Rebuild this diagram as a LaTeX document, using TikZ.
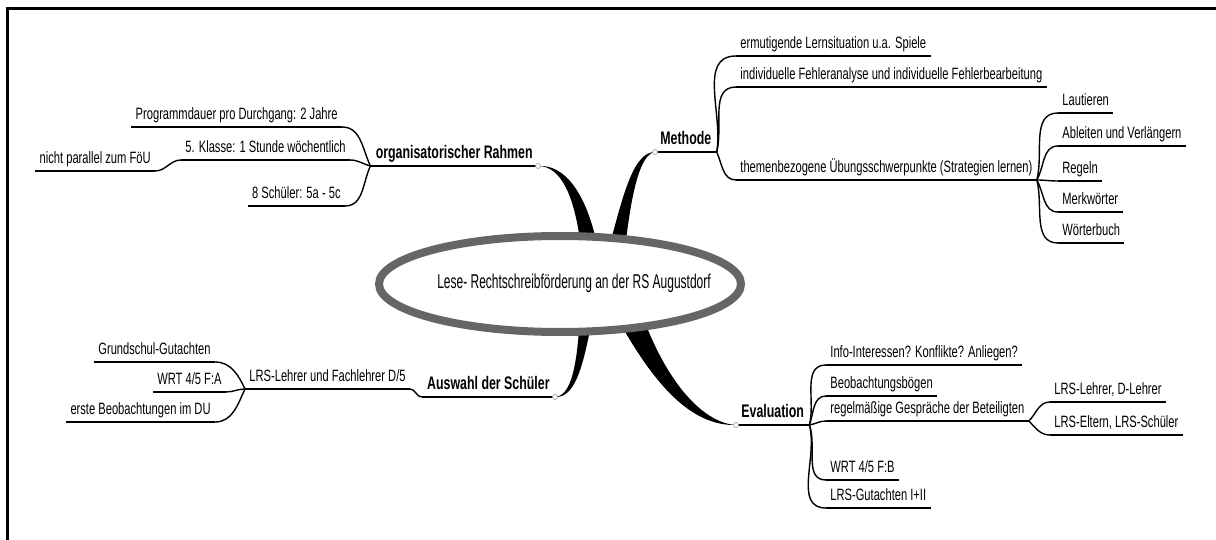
\documentclass[tikz,border=0pt]{standalone}
\usepackage{fontspec}
\setmainfont{Liberation Sans}[FakeStretch=0.68]
\newfontfamily\titelfont{Liberation Sans}[FakeStretch=0.6]

\begin{document}
\begin{tikzpicture}[x=0.5pt,y=-0.5pt,
  leaf/.style={inner xsep=2pt,inner ysep=1.3pt,text height=0.72em,text depth=0.22em,font=\fontsize{8.2}{9}\selectfont},
  lbl/.style={leaf,inner xsep=2.5pt,font=\fontsize{9.1}{10}\selectfont\bfseries},
  stroke/.style={line width=0.7pt},
  knot/.style={circle,draw=black!40,fill=white,line width=0.3pt,inner sep=0pt,minimum size=2.5pt}]
\useasboundingbox (0,0) rectangle (1216,540);
\draw[line width=1.5pt] (7,545) -- (7,9) -- (1222,9);

% Ansatzpunkte
\coordinate (orgdot) at (538,166);
\coordinate (methdot) at (655,152);
\coordinate (ausdot) at (555,397);
\coordinate (evaldot) at (736,425);

% dicke Aeste
\fill (orgdot) .. controls (562,166) and (574,198) .. (580,240) -- (596,240) .. controls (586,196) and (566,164) .. (orgdot) -- cycle;
\fill (methdot) .. controls (634,152) and (624,192) .. (611,240) -- (626,240) .. controls (632,192) and (640,154) .. (methdot) -- cycle;
\fill (ausdot) .. controls (574,398) and (582,370) .. (590,330) -- (579,330) .. controls (576,370) and (570,396) .. (ausdot) -- cycle;
\fill (evaldot) .. controls (695,426) and (660,392) .. (624,330) -- (648,330) .. controls (672,388) and (705,423) .. (evaldot) -- cycle;

% Mitte
\draw[draw=black!60,line width=4pt,fill=white] (560,284) ellipse (181 and 48);
\node[font=\fontsize{10}{11}\selectfont\titelfont] (titel) at (574,283) {Lese- Rechtschreibförderung an der RS Augustdorf};

% Hauptthemen
\node[lbl,anchor=south east] (org) at (orgdot) {organisatorischer Rahmen};
\node[lbl,anchor=south west] (meth) at (methdot) {Methode};
\node[lbl,anchor=south east] (aus) at (ausdot) {Auswahl der Schüler};
\node[lbl,anchor=south west] (eval) at (evaldot) {Evaluation};

% organisatorischer Rahmen
\node[leaf,anchor=south east] (prog) at (342,127) {Programmdauer pro Durchgang: 2 Jahre};
\node[leaf,anchor=south east] (klasse) at (350,160) {5. Klasse: 1 Stunde wöchentlich};
\node[leaf,anchor=south east] (parallel) at (155,171) {nicht parallel zum FöU};
\node[leaf,anchor=south east] (zahl) at (345,206) {8 Schüler: 5a - 5c};

% Methode
\node[leaf,anchor=south west] (lernsit) at (736,56) {ermutigende Lernsituation u.a. Spiele};
\node[leaf,anchor=south west] (fehler) at (736,87) {individuelle Fehleranalyse und individuelle Fehlerbearbeitung};
\node[leaf,anchor=south west] (themen) at (736,180) {themenbezogene Übungsschwerpunkte (Strategien lernen)};
\node[leaf,anchor=south west] (laut) at (1058,113) {Lautieren};
\node[leaf,anchor=south west] (ableit) at (1058,146) {Ableiten und Verlängern};
\node[leaf,anchor=south west] (regeln) at (1058,181) {Regeln};
\node[leaf,anchor=south west] (merk) at (1058,212) {Merkwörter};
\node[leaf,anchor=south west] (wbuch) at (1058,243) {Wörterbuch};

% Auswahl der Schueler
\node[leaf,anchor=south east] (lehrer) at (410,389) {LRS-Lehrer und Fachlehrer D/5};
\node[leaf,anchor=south east] (gutacht) at (215,362) {Grundschul-Gutachten};
\node[leaf,anchor=south east] (wrta) at (226,392) {WRT 4/5 F:A};
\node[leaf,anchor=south east] (beob) at (215,422) {erste Beobachtungen im DU};

% Evaluation
\node[leaf,anchor=south west] (info) at (826,365) {Info-Interessen? Konflikte? Anliegen?};
\node[leaf,anchor=south west] (boegen) at (826,396) {Beobachtungsbögen};
\node[leaf,anchor=south west] (gespr) at (826,421) {regelmäßige Gespräche der Beteiligten};
\node[leaf,anchor=south west] (lrsl) at (1050,402) {LRS-Lehrer, D-Lehrer};
\node[leaf,anchor=south west] (lrse) at (1050,435) {LRS-Eltern, LRS-Schüler};
\node[leaf,anchor=south west] (wrtb) at (826,480) {WRT 4/5 F:B};
\node[leaf,anchor=south west] (lrsg) at (826,508) {LRS-Gutachten I+II};

% Unterstriche
\foreach \n in {org,meth,aus,eval,prog,klasse,parallel,zahl,lernsit,fehler,themen,laut,ableit,regeln,merk,wbuch,lehrer,gutacht,wrta,beob,info,boegen,gespr,lrsl,lrse,wrtb,lrsg}
  \draw[stroke] (\n.south west) -- (\n.south east);

% Verzweigungen
\draw[stroke] (org.south west) to[out=115,in=0] (prog.south east);
\draw[stroke] (org.south west) to[out=165,in=0] (klasse.south east);
\draw[stroke] (org.south west) to[out=245,in=0] (zahl.south east);
\draw[stroke] (klasse.south west) to[out=180,in=0] (parallel.south east);

\draw[stroke] (meth.south east) to[out=80,in=180] (lernsit.south west);
\draw[stroke] (meth.south east) to[out=75,in=180] (fehler.south west);
\draw[stroke] (meth.south east) to[out=-65,in=180] (themen.south west);
\draw[stroke] (themen.south east) to[out=75,in=180] (laut.south west);
\draw[stroke] (themen.south east) to[out=60,in=180] (ableit.south west);
\draw[stroke] (themen.south east) to[out=0,in=180] (regeln.south west);
\draw[stroke] (themen.south east) to[out=-60,in=180] (merk.south west);
\draw[stroke] (themen.south east) to[out=-75,in=180] (wbuch.south west);

\draw[stroke] (lehrer.south east) to[out=0,in=180] (aus.south west);
\draw[stroke] (lehrer.south west) to[out=115,in=0] (gutacht.south east);
\draw[stroke] (lehrer.south west) to[out=180,in=0] (wrta.south east);
\draw[stroke] (lehrer.south west) to[out=245,in=0] (beob.south east);

\draw[stroke] (eval.south east) to[out=75,in=180] (info.south west);
\draw[stroke] (eval.south east) to[out=70,in=180] (boegen.south west);
\draw[stroke] (eval.south east) to[out=10,in=180] (gespr.south west);
\draw[stroke] (eval.south east) to[out=-70,in=180] (wrtb.south west);
\draw[stroke] (eval.south east) to[out=-75,in=180] (lrsg.south west);
\draw[stroke] (gespr.south east) to[out=45,in=180] (lrsl.south west);
\draw[stroke] (gespr.south east) to[out=-45,in=180] (lrse.south west);

% Knoten
\foreach \p in {orgdot,methdot,ausdot,evaldot}
  \node[knot] (k\p) at (\p) {};
\end{tikzpicture}
\end{document}
